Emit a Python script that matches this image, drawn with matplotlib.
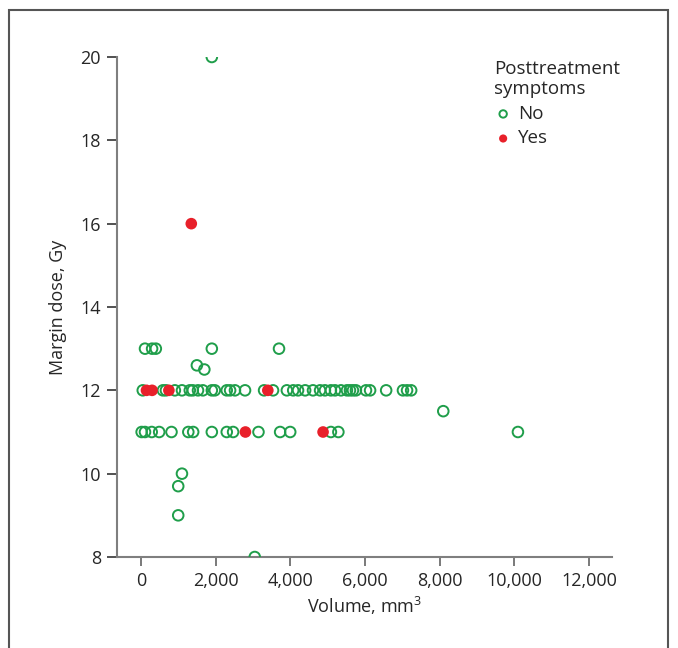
import matplotlib
matplotlib.use('Agg')
import matplotlib.pyplot as plt
from matplotlib.patches import Rectangle
from matplotlib.ticker import FuncFormatter

plt.rcParams['font.family'] = ['Open Sans', 'DejaVu Sans']
plt.rcParams['mathtext.fontset'] = 'custom'
plt.rcParams['mathtext.rm'] = 'Open Sans'

# posttreatment symptoms: No
no_volume = [50, 590, 670, 910, 1100, 1310, 1390, 1530, 1660, 1900, 1980,
             2300, 2390, 2520, 2790, 3300, 3540, 3910, 4080, 4210, 4400,
             4610, 4800, 4930, 5090, 5200, 5360, 5520, 5600, 5680, 5760,
             6030, 6140, 6570, 7020, 7130, 7240,
             20, 110, 290, 490, 820, 1270, 1400, 1900, 2300, 2470, 3150,
             3730, 4000, 5090, 5290, 10100,
             110, 300, 400, 1900, 3700,
             1500, 1700, 8100, 1900, 1100, 1000, 1000, 3050]
no_dose = [12] * 37 + [11] * 16 + [13] * 5 + \
          [12.6, 12.5, 11.5, 20, 10, 9.7, 9.0, 8]

# posttreatment symptoms: Yes
yes_volume = [150, 300, 750, 3400, 2800, 4880, 1350]
yes_dose = [12, 12, 12, 12, 11, 11, 16]

green = '#1f9e4a'
red = '#e8202a'
grey = '#7f7f7f'
text_col = '#262626'

fig = plt.figure(figsize=(6.78, 6.48), dpi=100)
ax = fig.add_axes([117 / 678, 1 - 557 / 648, 495 / 678, 500 / 648])

ax.scatter(no_volume, no_dose, s=58, facecolors='none', edgecolors=green,
           linewidths=1.4, label='No', zorder=3)
ax.scatter(yes_volume, yes_dose, s=70, color=red, edgecolors='none',
           label='Yes', zorder=4)

ax.set_xlim(-640, 12620)
ax.set_ylim(8, 20)
ax.set_xticks(range(0, 12001, 2000))
ax.set_yticks(range(8, 21, 2))
ax.xaxis.set_major_formatter(FuncFormatter(lambda v, p: f'{int(v):,}'))

for side in ['top', 'right']:
    ax.spines[side].set_visible(False)
for side in ['left', 'bottom']:
    ax.spines[side].set_color(grey)
    ax.spines[side].set_linewidth(1.5)

ax.tick_params(axis='y', length=7.5, width=1.1, color='#222222',
               labelsize=13, pad=4, labelcolor=text_col)
ax.tick_params(axis='x', length=6.5, width=1.1, color='#555555',
               labelsize=13, pad=4, labelcolor=text_col)

ax.set_xlabel('Volume, mm$^3$', fontsize=13, color=text_col, labelpad=4)
ax.set_ylabel('Margin dose, Gy', fontsize=13, color=text_col, labelpad=10)

leg = ax.legend(title='Posttreatment\nsymptoms', loc='upper left',
                bbox_to_anchor=(0.746, 1.01), frameon=False, fontsize=13.5,
                title_fontsize=13.5, handletextpad=0.3, labelspacing=0.35,
                markerscale=0.7, borderaxespad=0, handlelength=1.0)
leg._legend_box.align = 'left'
leg.get_title().set_color(text_col)
for t in leg.get_texts():
    t.set_color(text_col)

# outer frame
fig.patches.append(Rectangle((9 / 678, -0.05), 659 / 678, 1.05 - 10 / 648,
                             transform=fig.transFigure, fill=False,
                             edgecolor='#555555', linewidth=1.5))

fig.savefig('out.png', dpi=100)
